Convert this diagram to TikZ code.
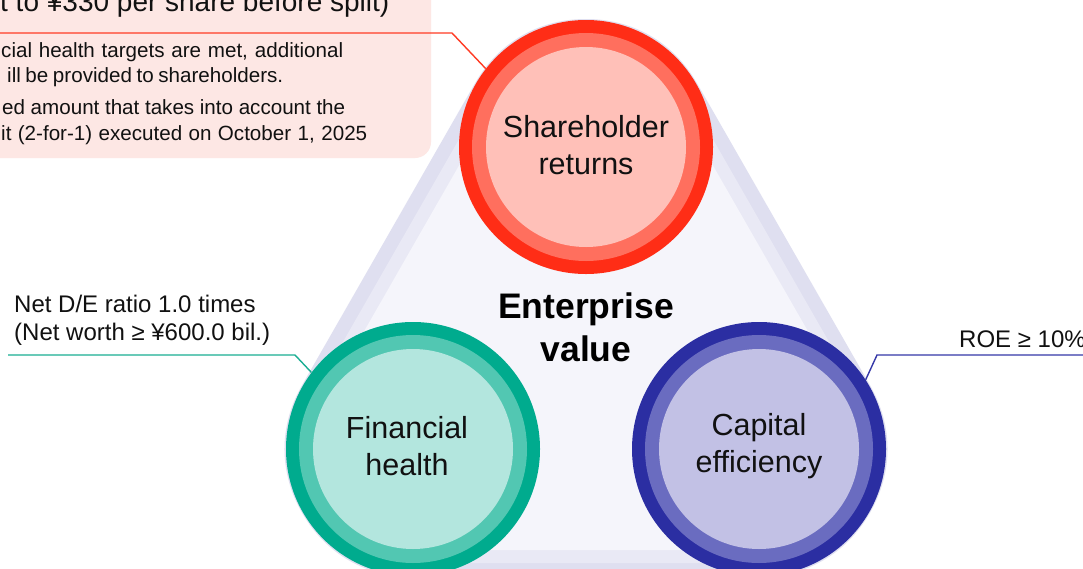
\documentclass[tikz,border=0pt]{standalone}
\usepackage{fontspec}
\setmainfont{Liberation Sans}
\definecolor{pinkbox}{HTML}{FDE7E4}
\definecolor{hullout}{HTML}{DFDFF0}
\definecolor{hullmid}{HTML}{E9E9F5}
\definecolor{hullin}{HTML}{F5F5FB}
\definecolor{rdark}{HTML}{FF2D16}
\definecolor{rmid}{HTML}{FF6F5E}
\definecolor{rlight}{HTML}{FFC0B8}
\definecolor{gdark}{HTML}{00AB8E}
\definecolor{gmid}{HTML}{52C7B2}
\definecolor{glight}{HTML}{B3E6DE}
\definecolor{bdark}{HTML}{2B2EA2}
\definecolor{bmid}{HTML}{6A6CC0}
\definecolor{blight}{HTML}{C2C1E5}
\definecolor{rline}{HTML}{FF3B24}
\definecolor{gline}{HTML}{1AAE93}
\definecolor{bline}{HTML}{3538A8}
\definecolor{txt}{HTML}{111111}
\begin{document}
\begin{tikzpicture}[x=1pt,y=-1pt,
  disc/.style={circle, inner sep=0pt, minimum size=#1},
  lbl/.style={align=center, text=txt, font=\fontsize{30.5}{37}\selectfont},
  note/.style={anchor=base west, inner sep=0pt, text=txt, font=\fontsize{20.6}{24}\selectfont},
  side/.style={anchor=base west, inner sep=0pt, text=txt, font=\fontsize{24}{28}\selectfont},
  conn/.style={line width=1.4pt}]
\useasboundingbox (0,0) rectangle (1083,568);
\clip (0,0) rectangle (1083,568);
\fill[white] (0,0) rectangle (1083,568);

% pink note box
\fill[pinkbox, rounded corners=16pt] (-40,-40) rectangle (431,158);
\node[anchor=base west, inner sep=0pt, text=txt, font=\fontsize{28}{32}\selectfont] (n0) at (0,11) {t to ¥330 per share before split)};
\node[note] (n1) at (1,57) {\makebox[342pt][s]{cial health targets are met, additional}};
\node[note] (n2) at (7,82) {\makebox[276pt][s]{ill be provided to shareholders.}};
\node[note] (n3) at (2,114) {\makebox[343pt][s]{ed amount that takes into account the}};
\node[note] (n4) at (1,140) {\makebox[366pt][s]{it (2-for-1) executed on October 1, 2025}};

% triangle background
\coordinate (T) at (586,147);
\coordinate (L) at (413,449);
\coordinate (R) at (759,449);
\filldraw[hullout, line width=256pt, line join=round] (T) -- (L) -- (R) -- cycle;
\filldraw[hullmid, line width=228pt, line join=round] (T) -- (L) -- (R) -- cycle;
\filldraw[hullin, line width=202pt, line join=round] (T) -- (L) -- (R) -- cycle;

% circles
\node[disc=254pt, fill=rdark] (sr) at (T) {};
\node[disc=228pt, fill=rmid] (sr2) at (T) {};
\node[disc=200pt, fill=rlight] (sr3) at (T) {};
\node[lbl] (srl) at (586,145) {Shareholder\\returns};

\node[disc=254pt, fill=gdark] (fh) at (L) {};
\node[disc=228pt, fill=gmid] (fh2) at (L) {};
\node[disc=200pt, fill=glight] (fh3) at (L) {};
\node[lbl] (fhl) at (407,446) {Financial\\health};

\node[disc=254pt, fill=bdark] (ce) at (R) {};
\node[disc=228pt, fill=bmid] (ce2) at (R) {};
\node[disc=200pt, fill=blight] (ce3) at (R) {};
\node[lbl] (cel) at (759,446) {Capital\\efficiency};

\node[align=center, text=black, font=\bfseries\fontsize{35.5}{43}\selectfont] (ev) at (586,327) {Enterprise\\value};

% side texts
\node[side] (de1) at (14,312) {Net D/E ratio 1.0 times};
\node[side] (de2) at (14,340) {(Net worth ≥ ¥600.0 bil.)};
\node[side] (roe) at (959,347) {ROE ≥ 10\%};

% connectors
\coordinate (ra) at (-2,33);
\coordinate (rb) at (452,33);
\draw[conn, rline] (ra) -- (rb) -- (sr.142);
\coordinate (ga) at (8,355);
\coordinate (gb) at (295,355);
\draw[conn, gline] (ga) -- (gb) -- (fh.143);
\coordinate (ba) at (1090,355);
\coordinate (bb) at (877,355);
\draw[conn, bline] (ba) -- (bb) -- (ce.33);
\end{tikzpicture}
\end{document}
